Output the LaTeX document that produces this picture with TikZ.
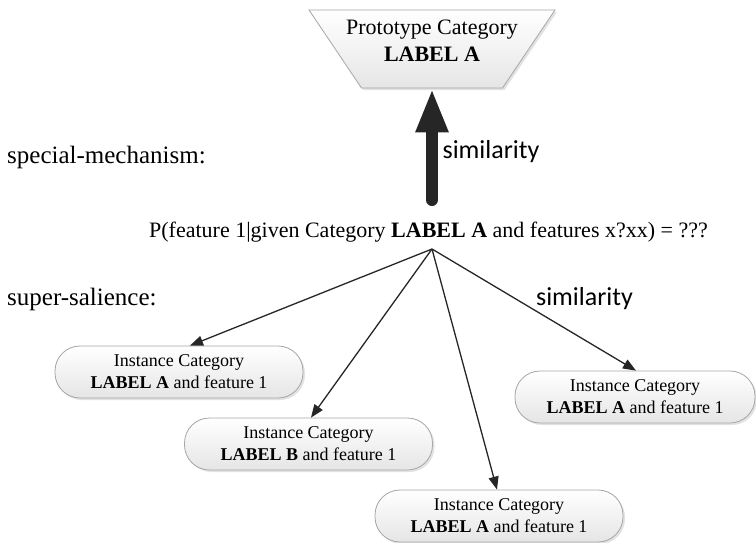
\documentclass[tikz,border=0pt]{standalone}
\usepackage{fontspec}
\setmainfont{Liberation Serif}
\newfontfamily\simfont{Carlito}
\usetikzlibrary{arrows.meta,shapes.geometric,shadows}
\tikzset{
  inst/.style={draw=gray!70, line width=0.8pt, rounded corners=25pt, minimum height=52pt,
    minimum width=248pt, top color=white, bottom color=gray!20, align=center,
    font=\fontsize{18}{22}\selectfont,
    drop shadow={shadow xshift=2pt, shadow yshift=-2pt, fill=gray!45}, inner sep=2pt},
  proto/.style={draw=gray!70, line width=0.8pt, trapezium, shape border rotate=180,
    trapezium stretches=true, trapezium left angle=69.6, trapezium right angle=69.6,
    minimum width=246pt, minimum height=78pt, top color=white, bottom color=gray!20,
    drop shadow={shadow xshift=2pt, shadow yshift=-2pt, fill=gray!45}},
  protext/.style={align=center, font=\fontsize{22}{27}\selectfont, inner sep=0pt},
  thin/.style={line width=1.3pt, draw=black!85, -{Triangle[length=13pt,width=10pt]}},
  thick/.style={line width=12pt, draw=black!85, line cap=round, -{Triangle[length=44pt,width=30pt]}},
  lbl/.style={font=\fontsize{25}{28}\selectfont, anchor=west, inner sep=0pt},
  sim/.style={font=\simfont\fontsize{26}{28}\selectfont, inner sep=0pt}
}
\begin{document}
\begin{tikzpicture}[x=1pt,y=-1pt]
\useasboundingbox (0,0) rectangle (756,542);
\node[proto] (pc) at (432,49) {};
\node[protext] (pct) at (432,41) {Prototype Category\\\textbf{LABEL A}};
\node[lbl] (sm) at (7,157) {special-mechanism:};
\node[lbl] (ss) at (7,299) {super-salience:};
\node[font=\fontsize{22}{26}\selectfont, inner sep=0pt] (main) at (428.5,232)
  {P(feature 1|given Category \textbf{LABEL A} and features x?xx) = ???};
\coordinate (src) at (432,249);
\coordinate (thb) at (432,200);
\node[inst] (b1) at (179,372) {Instance Category\\\textbf{LABEL A} and feature 1};
\node[inst] (b2) at (308.5,444) {Instance Category\\\textbf{LABEL B} and feature 1};
\node[inst] (b3) at (499,516) {Instance Category\\\textbf{LABEL A} and feature 1};
\node[inst, minimum width=240pt] (b4) at (635,397) {Instance Category\\\textbf{LABEL A} and feature 1};
\draw[thick] (thb) -- (pc.south -| thb);
\node[sim] (s1) at (491,152) {similarity};
\node[sim] (s2) at (584.5,299) {similarity};
\draw[thin] (src) -- (b1.north -| 190,0);
\draw[thin] (src) -- (b2.north -| 311,0);
\draw[thin] (src) -- (b3.north -| 497,0);
\draw[thin] (src) -- (b4.north -| 636,0);
\end{tikzpicture}
\end{document}
